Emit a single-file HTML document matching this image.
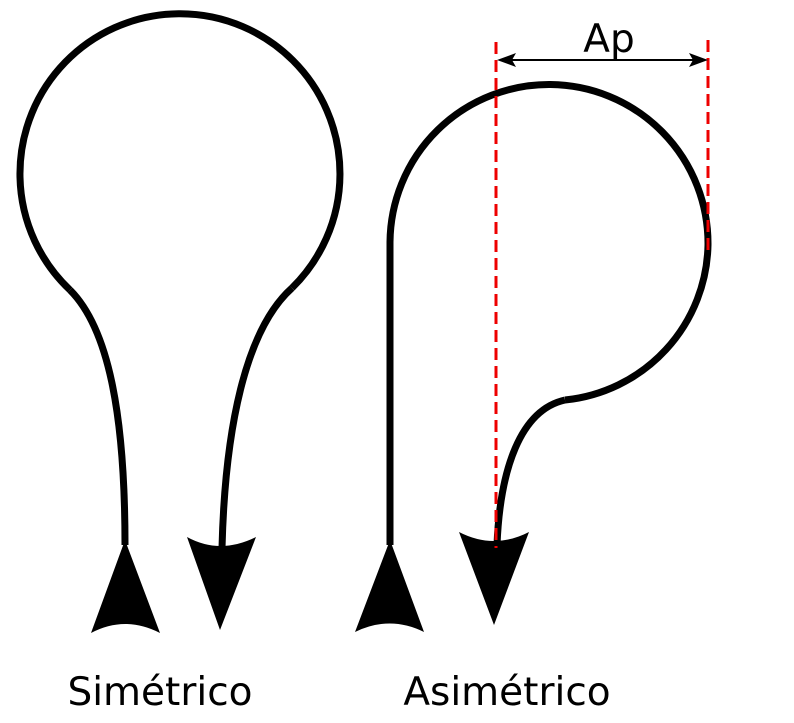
<!DOCTYPE html>
<html><head><style>body{margin:0;background:#fff}svg{display:block}</style></head><body>
<svg width="794" height="723" viewBox="0 0 794 723" xmlns="http://www.w3.org/2000/svg">
<g fill="none" stroke="#000" stroke-width="7">
<path d="M70,290 A160,160 0 1 1 292,288"/>
<path d="M70,290 C110,330 125,420 125,545"/>
<path d="M292,288 C245,330 225,430 222,548"/>
<path d="M390,545 L390,242 A159,159 0 0 1 708,245 A159,159 0 0 1 565,400"/>
<path d="M565,400 C520,410 500,470 497,545"/>
</g>
<g fill="#000">
<path d="M125,540 L160,633 Q125,615 91,633 Z"/>
<path d="M220,630 L256,537 Q220,555 187,537 Z"/>
<path d="M390,540 L424,632 Q390,615 355,632 Z"/>
<path d="M494,625 L529,532 Q494,550 459,532 Z"/>
</g>
<g stroke="#e00" stroke-width="3" stroke-dasharray="12,6">
<line x1="496" y1="42" x2="496" y2="548"/>
<line x1="708" y1="40" x2="708" y2="252"/>
</g>
<line x1="505" y1="60" x2="700" y2="60" stroke="#000" stroke-width="2"/>
<path d="M497,60 L516,53 L512,60 L516,67 Z M708,60 L689,53 L693,60 L689,67 Z" fill="#000"/>
<g font-family="'DejaVu Sans','Liberation Sans',sans-serif" font-size="39" fill="#000">
<text x="609" y="52" text-anchor="middle">Ap</text>
<text x="160" y="705" text-anchor="middle">Simétrico</text>
<text x="507" y="705" text-anchor="middle">Asimétrico</text>
</g>
</svg>
</body></html>
